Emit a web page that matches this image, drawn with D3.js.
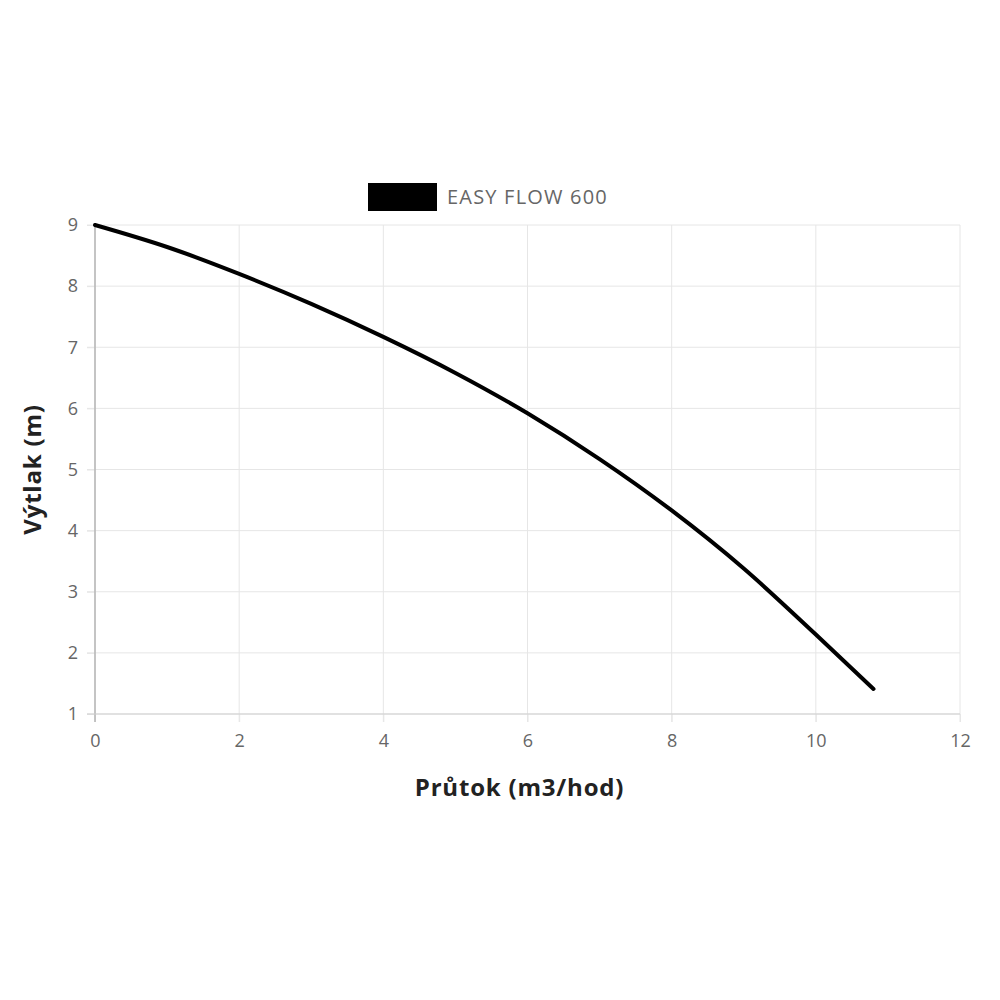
<!DOCTYPE html>
<html>
<head>
<meta charset="utf-8">
<script src="https://cdn.jsdelivr.net/npm/d3@7"></script>
<style>
  body { margin: 0; background: #fff; }
  text { font-family: "Open Sans", sans-serif; }
</style>
</head>
<body>
<div id="chart-area"></div>
<script>
// pump curve
const seriesName = "EASY FLOW 600"
const flow = [0, 1, 2, 3, 4, 5, 6, 7, 8, 9, 10, 10.8]
const head = [9, 8.64, 8.2, 7.71, 7.17, 6.58, 5.92, 5.17, 4.33, 3.38, 2.3, 1.41]
const xTicks = [0, 2, 4, 6, 8, 10, 12]
const yTicks = [1, 2, 3, 4, 5, 6, 7, 8, 9]

const MARGIN = { LEFT: 95, RIGHT: 40, TOP: 225, BOTTOM: 286 }
const WIDTH = 1000 - MARGIN.LEFT - MARGIN.RIGHT
const HEIGHT = 1000 - MARGIN.TOP - MARGIN.BOTTOM

const svg = d3.select("#chart-area").append("svg")
  .attr("width", 1000)
  .attr("height", 1000)

const g = svg.append("g")
  .attr("transform", `translate(${MARGIN.LEFT}, ${MARGIN.TOP})`)

// Scales
const x = d3.scaleLinear().domain([0, 12]).range([0, WIDTH])
const y = d3.scaleLinear().domain([1, 9]).range([HEIGHT, 0])

// grid
const gridColor = "#e6e6e6"
g.append("g").selectAll("line").data(xTicks).join("line")
  .attr("x1", d => x(d)).attr("x2", d => x(d))
  .attr("y1", 0).attr("y2", HEIGHT + 8)
  .attr("stroke", gridColor).attr("stroke-width", 1)
g.append("g").selectAll("line").data(yTicks).join("line")
  .attr("x1", -8).attr("x2", WIDTH)
  .attr("y1", d => y(d)).attr("y2", d => y(d))
  .attr("stroke", gridColor).attr("stroke-width", 1)

// X Axis
const xAxisCall = d3.axisBottom(x).tickValues(xTicks).tickSize(8).tickPadding(12)
const xAxis = g.append("g")
  .attr("transform", `translate(0, ${HEIGHT})`)
  .call(xAxisCall)
xAxis.select(".domain").remove()
xAxis.selectAll("line").attr("stroke", gridColor)

// Y Axis
const yAxisCall = d3.axisLeft(y).tickValues(yTicks).tickSize(8).tickPadding(9)
const yAxis = g.append("g").call(yAxisCall)
yAxis.select(".domain").remove()
yAxis.selectAll("line").attr("stroke", gridColor)

g.selectAll(".tick text")
  .attr("font-size", "18px")
  .attr("fill", "#666")
  .style("font-family", "Open Sans, sans-serif")

// axis lines
g.append("line")
  .attr("x1", 0).attr("x2", 0).attr("y1", 0).attr("y2", HEIGHT + 8)
  .attr("stroke", "#b5b5b5").attr("stroke-width", 1.5)
g.append("line")
  .attr("x1", -8).attr("x2", WIDTH).attr("y1", HEIGHT).attr("y2", HEIGHT)
  .attr("stroke", "#cfcfcf").attr("stroke-width", 1)

// Labels
g.append("text")
  .attr("x", WIDTH / 2 - 8)
  .attr("y", HEIGHT + 82)
  .attr("font-size", "24px")
  .attr("font-weight", "bold")
  .attr("letter-spacing", "0.8px")
  .attr("fill", "#222")
  .attr("text-anchor", "middle")
  .text("Průtok (m3/hod)")
g.append("text")
  .attr("transform", "rotate(-90)")
  .attr("x", -y(5))
  .attr("y", -54)
  .attr("font-size", "24px")
  .attr("font-weight", "bold")
  .attr("letter-spacing", "0.8px")
  .attr("fill", "#222")
  .attr("text-anchor", "middle")
  .text("Výtlak (m)")

// Legend
const legend = svg.append("g").attr("transform", "translate(368, 183)")
legend.append("rect")
  .attr("width", 69).attr("height", 28)
  .attr("fill", "#000")
legend.append("text")
  .attr("x", 79).attr("y", 21)
  .attr("font-size", "20px")
  .attr("letter-spacing", "1.2px")
  .attr("fill", "#666")
  .text(seriesName)

// curve
const data = flow.map((f, i) => ({ q: f, h: head[i] }))
const line = d3.line()
  .x(d => x(d.q))
  .y(d => y(d.h))
  .curve(d3.curveMonotoneX)
g.append("path")
  .datum(data)
  .attr("fill", "none")
  .attr("stroke", "#000")
  .attr("stroke-width", 4)
  .attr("stroke-linecap", "round")
  .attr("d", line)
</script>
</body>
</html>
